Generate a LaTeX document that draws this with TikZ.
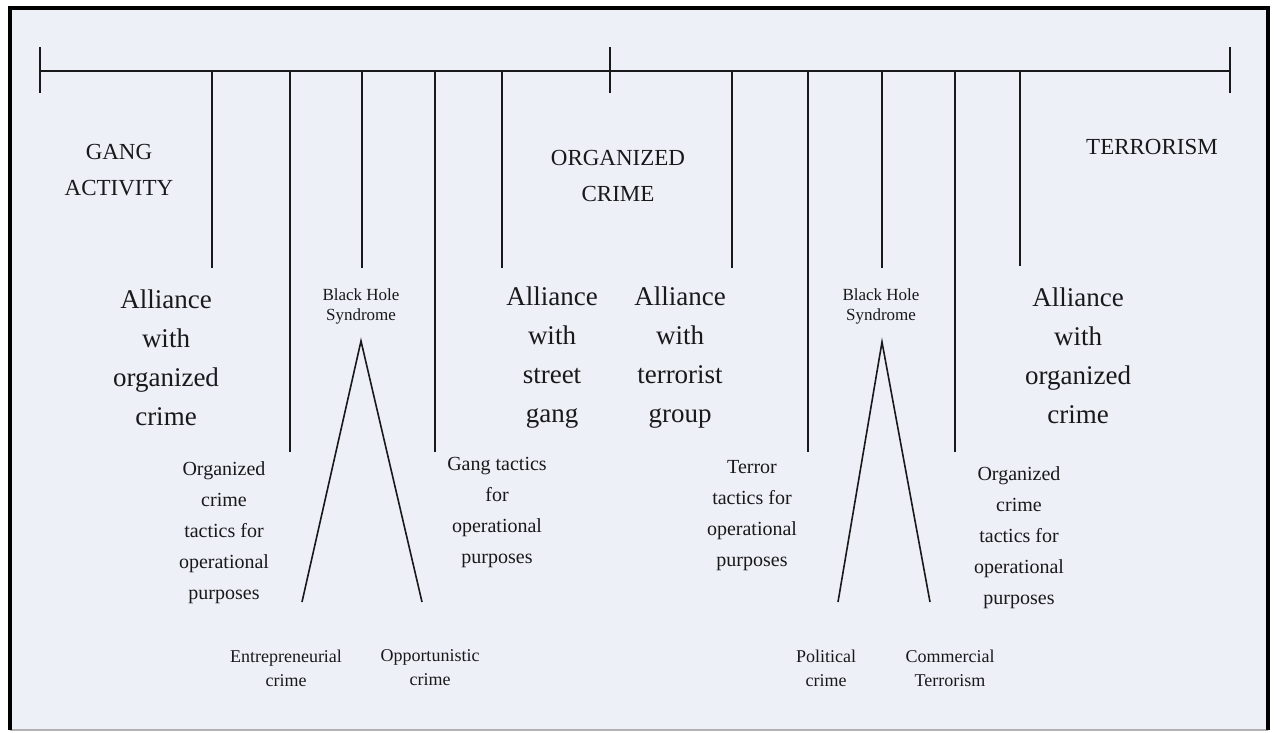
\documentclass[tikz,border=0pt]{standalone}
\usepackage{fontspec}
\setmainfont{Liberation Serif}
\usepackage{tikz}
\usetikzlibrary{positioning}
\definecolor{paper}{RGB}{237,240,246}
\definecolor{ink}{RGB}{25,25,28}
\tikzset{
  capstxt/.style={text=ink, align=center, font=\fontsize{23}{36}\selectfont},
  alliancetxt/.style={text=ink, align=center, font=\fontsize{27}{39}\selectfont},
  tacticstxt/.style={text=ink, align=center, font=\fontsize{20}{31}\selectfont},
  holetxt/.style={text=ink, align=center, font=\fontsize{17}{20}\selectfont},
  kindtxt/.style={text=ink, align=center, font=\fontsize{18}{24}\selectfont},
  axis/.style={ink, line width=1.8pt},
  drop/.style={ink, line width=1.6pt}
}

\begin{document}
\begin{tikzpicture}[x=1pt, y=-1pt]
  \useasboundingbox (0,0) rectangle (1277,733);
  % frame
  \fill[paper] (10,8) rectangle (1268,730);
  \draw[gray!60, line width=2pt] (10,730) -- (1268,730);
  \draw[black, line width=3.5pt] (10,730) -- (10,8) -- (1268,8) -- (1268,730);

  % main line with its end ticks
  \coordinate (start) at (40,71);
  \coordinate (middle) at (610,71);
  \coordinate (stop) at (1230,71);
  \draw[axis] (start) -- (stop);
  \draw[axis] ([yshift=-22pt]start) -- ([yshift=24pt]start);
  \draw[axis] ([yshift=-22pt]middle) -- ([yshift=24pt]middle);
  \draw[axis] ([yshift=-22pt]stop) -- ([yshift=24pt]stop);

  % group labels
  \node[capstxt] (gang) at (119,170) {GANG\\ACTIVITY};
  \node[capstxt] (orgcrime) at (618,176) {ORGANIZED\\CRIME};
  \node[capstxt] (terror) at (1152,147) {TERRORISM};

  % drops from the main line
  \coordinate (a1) at (212,268);
  \coordinate (b1) at (290,452);
  \coordinate (h1) at (362,268);
  \coordinate (c1) at (435,452);
  \coordinate (d1) at (502,268);
  \coordinate (a2) at (732,268);
  \coordinate (b2) at (808,452);
  \coordinate (h2) at (882,268);
  \coordinate (c2) at (955,452);
  \coordinate (d2) at (1020,266);
  \foreach \p in {a1,b1,h1,c1,d1,a2,b2,h2,c2,d2}
    \draw[drop] (\p |- start) -- (\p);

  % alliances
  \node[alliancetxt] (ally1) at (166,358) {Alliance\\with\\organized\\crime};
  \node[alliancetxt] (ally2) at (552,358) {Alliance\\with\\street\\gang};
  \node[alliancetxt] (ally3) at (680,358) {Alliance\\with\\terrorist\\group};
  \node[alliancetxt] (ally4) at (1078,356) {Alliance\\with\\organized\\crime};

  % black holes
  \node[holetxt] (hole1) at (361,306) {Black Hole\\Syndrome};
  \node[holetxt] (hole2) at (881,306) {Black Hole\\Syndrome};
  \coordinate (top1) at (361,341);
  \coordinate (top2) at (882,342);
  \coordinate (left1) at (302,602);
  \coordinate (right1) at (422,602);
  \coordinate (left2) at (838,602);
  \coordinate (right2) at (930,602);
  \draw[drop] (left1) -- (top1) -- (right1);
  \draw[drop] (left2) -- (top2) -- (right2);

  % tactics
  \node[tacticstxt] (tact1) at (224,533) {Organized\\crime\\tactics for\\operational\\purposes};
  \node[tacticstxt] (tact2) at (497,513) {Gang tactics\\for\\operational\\purposes};
  \node[tacticstxt] (tact3) at (752,516) {Terror\\tactics for\\operational\\purposes};
  \node[tacticstxt] (tact4) at (1019,538) {Organized\\crime\\tactics for\\operational\\purposes};

  % kinds of crime
  \node[kindtxt] (entre) at (286,668) {Entrepreneurial\\crime};
  \node[kindtxt] (oppor) at (430,668) {Opportunistic\\crime};
  \node[kindtxt] (polit) at (826,668) {Political\\crime};
  \node[kindtxt] (comm) at (950,668) {Commercial\\Terrorism};
\end{tikzpicture}
\end{document}
